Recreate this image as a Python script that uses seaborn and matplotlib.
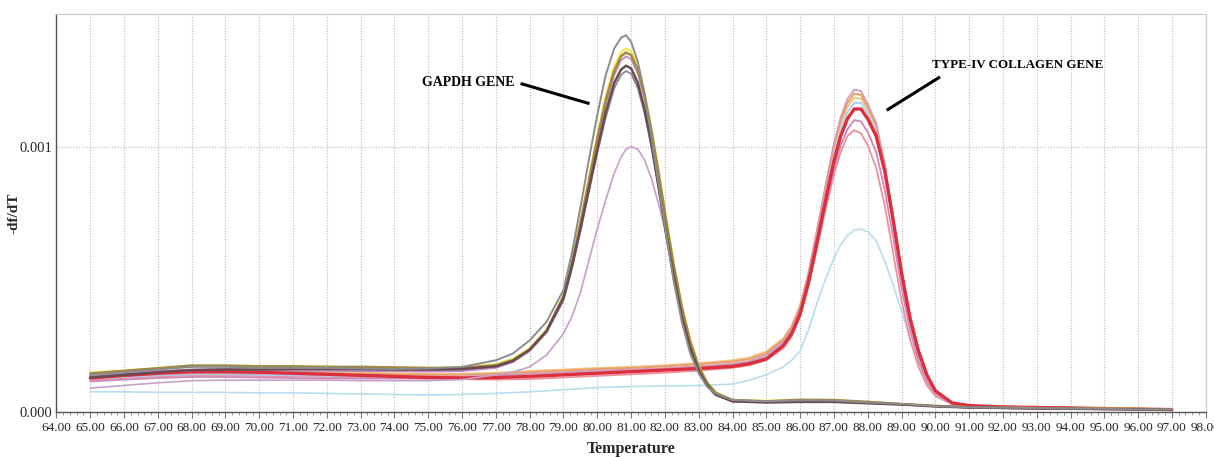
import numpy as np
import pandas as pd
import matplotlib
matplotlib.use("Agg")
import matplotlib.pyplot as plt
from matplotlib.ticker import MultipleLocator, FixedLocator, FormatStrFormatter
import seaborn as sns

# ---------------- data (values in units of 1e-4 -df/dT) ----------------
UNIT = 1e-4

T_gapdh = [65, 66, 67, 68, 69, 70, 71, 72, 73, 74, 75, 76,
           77, 77.5, 78, 78.5, 79, 79.25, 79.5, 79.75, 80, 80.25, 80.5, 80.7, 80.85,
           81.0, 81.2, 81.4, 81.6, 81.8, 82, 82.25, 82.5, 82.75, 83, 83.25, 83.5, 84,
           85, 86, 87, 88, 89, 90, 91, 92, 93, 94, 95, 96, 97]

gapdh_gray = [1.40, 1.50, 1.60, 1.70, 1.70, 1.66, 1.66, 1.66, 1.64, 1.62, 1.64, 1.70,
              1.95, 2.20, 2.70, 3.40, 4.60, 6.00, 7.70, 9.50, 11.2, 12.7, 13.7, 14.1, 14.2,
              13.95, 13.2, 12.0, 10.4, 8.70, 7.00, 5.00, 3.40, 2.20, 1.45, 0.95, 0.70, 0.45,
              0.40, 0.44, 0.43, 0.36, 0.30, 0.22, 0.18, 0.16, 0.15, 0.13, 0.12, 0.10, 0.09]
gapdh_yellow = [1.48, 1.56, 1.64, 1.72, 1.72, 1.70, 1.70, 1.70, 1.68, 1.66, 1.66, 1.68,
                1.80, 2.00, 2.40, 3.10, 4.40, 5.70, 7.20, 8.80, 10.4, 11.9, 13.0, 13.55, 13.7,
                13.6, 13.05, 12.05, 10.7, 9.20, 7.60, 5.70, 4.00, 2.70, 1.75, 1.10, 0.75, 0.45,
                0.42, 0.45, 0.44, 0.38, 0.30, 0.22, 0.18, 0.16, 0.15, 0.14, 0.13, 0.12, 0.10]
gapdh_olive = [1.45, 1.55, 1.65, 1.75, 1.75, 1.72, 1.72, 1.70, 1.70, 1.68, 1.66, 1.66,
               1.76, 1.95, 2.35, 3.05, 4.35, 5.60, 7.10, 8.70, 10.3, 11.75, 12.85, 13.4, 13.55,
               13.45, 12.9, 11.9, 10.6, 9.10, 7.50, 5.60, 3.95, 2.65, 1.70, 1.10, 0.72, 0.45,
               0.40, 0.46, 0.45, 0.38, 0.30, 0.23, 0.18, 0.16, 0.14, 0.13, 0.12, 0.11, 0.09]
gapdh_orchid = [1.38, 1.46, 1.54, 1.60, 1.62, 1.60, 1.58, 1.56, 1.56, 1.54, 1.52, 1.54,
                1.66, 1.88, 2.30, 3.00, 4.30, 5.55, 7.00, 8.60, 10.15, 11.6, 12.7, 13.25, 13.4,
                13.3, 12.75, 11.8, 10.5, 9.00, 7.40, 5.55, 3.90, 2.60, 1.65, 1.05, 0.70, 0.44,
                0.40, 0.43, 0.42, 0.36, 0.29, 0.22, 0.17, 0.15, 0.14, 0.13, 0.12, 0.10, 0.09]
gapdh_dark = [1.30, 1.40, 1.50, 1.58, 1.60, 1.60, 1.62, 1.62, 1.62, 1.60, 1.60, 1.62,
              1.72, 1.92, 2.35, 3.05, 4.30, 5.50, 6.90, 8.40, 9.90, 11.3, 12.4, 12.9, 13.05,
              12.95, 12.4, 11.4, 10.1, 8.60, 7.00, 5.20, 3.60, 2.40, 1.55, 1.00, 0.66, 0.40,
              0.36, 0.38, 0.38, 0.33, 0.28, 0.21, 0.17, 0.15, 0.13, 0.12, 0.11, 0.10, 0.08]
gapdh_slate = [1.35, 1.44, 1.52, 1.58, 1.60, 1.58, 1.56, 1.56, 1.54, 1.54, 1.54, 1.58,
               1.70, 1.90, 2.30, 3.00, 4.20, 5.40, 6.80, 8.30, 9.75, 11.1, 12.2, 12.7, 12.85,
               12.75, 12.2, 11.25, 10.0, 8.50, 6.90, 5.10, 3.55, 2.35, 1.50, 0.98, 0.65, 0.40,
               0.36, 0.39, 0.38, 0.33, 0.28, 0.21, 0.17, 0.15, 0.13, 0.12, 0.11, 0.10, 0.08]
gapdh_mauve = [0.90, 1.00, 1.10, 1.18, 1.20, 1.20, 1.20, 1.20, 1.18, 1.18, 1.18, 1.22,
               1.40, 1.50, 1.70, 2.15, 2.95, 3.60, 4.50, 5.70, 6.90, 8.00, 9.00, 9.60, 9.90,
               10.0, 9.90, 9.50, 8.80, 7.90, 6.90, 5.40, 3.90, 2.60, 1.60, 0.95, 0.62, 0.40,
               0.38, 0.42, 0.42, 0.36, 0.29, 0.22, 0.17, 0.15, 0.14, 0.13, 0.12, 0.10, 0.09]

T_col = [65, 66, 67, 68, 69, 70, 71, 72, 73, 74, 75, 76,
         77, 78, 79, 80, 81, 82, 83, 84,
         84.5, 85, 85.5, 85.75, 86, 86.25, 86.5, 86.75, 87, 87.2, 87.4, 87.6, 87.8,
         88, 88.25, 88.5, 88.75, 89, 89.25, 89.5, 89.75, 90, 90.5,
         91, 92, 93, 94, 95, 96, 97]

col_mauve = [1.30, 1.36, 1.42, 1.46, 1.46, 1.44, 1.42, 1.40, 1.38, 1.36, 1.34, 1.34,
             1.38, 1.44, 1.50, 1.56, 1.60, 1.65, 1.72, 1.82,
             1.92, 2.15, 2.65, 3.10, 3.90, 5.20, 6.80, 8.50, 10.1, 11.1, 11.8, 12.15, 12.1,
             11.6, 10.9, 9.35, 7.30, 5.10, 3.40, 2.15, 1.25, 0.70, 0.32,
             0.25, 0.20, 0.18, 0.16, 0.14, 0.12, 0.10]
col_orange = [1.35, 1.42, 1.48, 1.52, 1.52, 1.50, 1.48, 1.46, 1.44, 1.42, 1.40, 1.40,
              1.44, 1.50, 1.56, 1.62, 1.66, 1.72, 1.80, 1.90,
              2.00, 2.22, 2.72, 3.20, 4.00, 5.25, 6.85, 8.50, 10.05, 11.0, 11.65, 12.0, 11.95,
              11.5, 10.8, 9.30, 7.30, 5.20, 3.45, 2.20, 1.30, 0.72, 0.33,
              0.25, 0.20, 0.18, 0.16, 0.14, 0.12, 0.10]
col_peach = [1.40, 1.46, 1.52, 1.56, 1.56, 1.54, 1.52, 1.50, 1.48, 1.46, 1.44, 1.44,
             1.48, 1.54, 1.60, 1.66, 1.70, 1.76, 1.84, 1.95,
             2.05, 2.28, 2.78, 3.25, 4.00, 5.20, 6.80, 8.40, 9.95, 10.85, 11.5, 11.85, 11.8,
             11.4, 10.75, 9.30, 7.40, 5.30, 3.55, 2.25, 1.35, 0.75, 0.34,
             0.25, 0.20, 0.18, 0.16, 0.14, 0.12, 0.10]
col_skyblue = [1.25, 1.32, 1.38, 1.42, 1.42, 1.40, 1.38, 1.36, 1.34, 1.32, 1.30, 1.30,
               1.34, 1.40, 1.46, 1.52, 1.56, 1.62, 1.70, 1.80,
               1.90, 2.10, 2.60, 3.05, 3.80, 5.00, 6.55, 8.15, 9.70, 10.65, 11.3, 11.65, 11.65,
               11.25, 10.55, 9.10, 7.15, 5.10, 3.40, 2.15, 1.28, 0.72, 0.33,
               0.24, 0.19, 0.17, 0.15, 0.13, 0.11, 0.09]
col_red = [1.28, 1.38, 1.46, 1.52, 1.52, 1.50, 1.46, 1.42, 1.38, 1.34, 1.30, 1.28,
           1.30, 1.34, 1.40, 1.46, 1.52, 1.58, 1.64, 1.72,
           1.82, 2.00, 2.50, 2.95, 3.70, 4.90, 6.40, 7.95, 9.45, 10.4, 11.05, 11.42, 11.42,
           11.05, 10.4, 9.10, 7.25, 5.25, 3.55, 2.30, 1.40, 0.80, 0.34,
           0.24, 0.19, 0.17, 0.15, 0.13, 0.11, 0.09]
col_orchid = [1.15, 1.22, 1.28, 1.32, 1.32, 1.30, 1.28, 1.26, 1.26, 1.26, 1.26, 1.28,
              1.32, 1.38, 1.44, 1.50, 1.55, 1.60, 1.68, 1.78,
              1.88, 2.05, 2.50, 2.95, 3.70, 4.85, 6.30, 7.75, 9.15, 10.05, 10.65, 11.0, 10.95,
              10.55, 9.80, 8.40, 6.60, 4.70, 3.10, 1.95, 1.15, 0.68, 0.32,
              0.23, 0.19, 0.17, 0.15, 0.13, 0.11, 0.09]
col_pink = [1.20, 1.28, 1.34, 1.38, 1.38, 1.36, 1.34, 1.32, 1.30, 1.28, 1.26, 1.24,
            1.22, 1.24, 1.30, 1.36, 1.42, 1.48, 1.56, 1.66,
            1.76, 1.95, 2.40, 2.85, 3.60, 4.75, 6.15, 7.60, 8.95, 9.80, 10.4, 10.62, 10.5,
            10.05, 9.20, 7.80, 6.00, 4.20, 2.75, 1.70, 1.00, 0.60, 0.30,
            0.22, 0.18, 0.16, 0.14, 0.12, 0.10, 0.09]
col_paleblue = [0.76, 0.76, 0.74, 0.74, 0.74, 0.72, 0.72, 0.70, 0.68, 0.66, 0.64, 0.66,
                0.70, 0.76, 0.84, 0.92, 0.96, 0.98, 1.00, 1.05,
                1.20, 1.40, 1.70, 1.95, 2.30, 3.10, 4.10, 5.00, 5.80, 6.30, 6.65, 6.85, 6.89,
                6.80, 6.45, 5.70, 4.80, 3.80, 2.80, 1.85, 1.10, 0.60, 0.28,
                0.22, 0.18, 0.16, 0.14, 0.12, 0.10, 0.09]

x_ticks = [64, 65, 66, 67, 68, 69, 70, 71, 72, 73, 74, 75, 76, 77, 78, 79, 80, 81,
           82, 83, 84, 85, 86, 87, 88, 89, 90, 91, 92, 93, 94, 95, 96, 97, 98]
y_ticks = [0.000, 0.001]

# ---------------- styling ----------------
curves = [
    # (temps, values, colour, linewidth)
    (T_col, col_paleblue, "#b9dcef", 1.2),
    (T_col, col_pink, "#ef8f9c", 1.3),
    (T_col, col_orchid, "#cf86bb", 1.3),
    (T_col, col_skyblue, "#a6d3ec", 1.3),
    (T_col, col_peach, "#f3c58e", 1.4),
    (T_col, col_orange, "#e9a066", 1.4),
    (T_col, col_mauve, "#d49ab8", 1.3),
    (T_col, col_red, "#db2f3d", 2.4),
    (T_gapdh, gapdh_mauve, "#c7a0c9", 1.2),
    (T_gapdh, gapdh_slate, "#8a8898", 1.3),
    (T_gapdh, gapdh_orchid, "#c48ac8", 1.3),
    (T_gapdh, gapdh_yellow, "#f3e150", 1.6),
    (T_gapdh, gapdh_olive, "#a08a40", 1.8),
    (T_gapdh, gapdh_dark, "#6b4a50", 1.8),
    (T_gapdh, gapdh_gray, "#8c8c8c", 1.4),
]

sns.set_style("white")
plt.rcParams["font.family"] = ["Liberation Serif", "DejaVu Serif"]

fig = plt.figure(figsize=(12.14, 4.57), dpi=100)
ax = fig.add_axes([0.0465, 0.0985, 0.9467, 0.8709])

for temps, vals, colour, lw in curves:
    df = pd.DataFrame({"Temperature": temps, "dfdT": np.asarray(vals) * UNIT})
    sns.lineplot(data=df, x="Temperature", y="dfdT", color=colour, linewidth=lw,
                 ax=ax, sort=False, legend=False)

ax.set_xlim(64, 98)
ax.set_ylim(0, 0.0015)
ax.xaxis.set_major_locator(FixedLocator(x_ticks))
ax.xaxis.set_major_formatter(FormatStrFormatter("%.2f"))
ax.xaxis.set_minor_locator(MultipleLocator(0.2))
ax.yaxis.set_major_locator(FixedLocator(y_ticks))
ax.yaxis.set_major_formatter(FormatStrFormatter("%.3f"))

ax.grid(True, which="major", color="#b5b5b5", linestyle=(0, (1, 1.5)), linewidth=0.8)
ax.set_axisbelow(True)

for side in ["top", "right"]:
    ax.spines[side].set_color("#c8c8c8")
    ax.spines[side].set_linewidth(0.8)
for side in ["left", "bottom"]:
    ax.spines[side].set_color("#555555")
    ax.spines[side].set_linewidth(1.0)

ax.tick_params(axis="x", which="major", length=4, width=0.8, color="#777777",
               labelsize=9.5, pad=3, direction="out", bottom=True)
ax.tick_params(axis="x", which="minor", length=2.5, width=0.6, color="#888888",
               direction="out", bottom=True)
ax.tick_params(axis="y", which="major", length=0, labelsize=10.5, pad=3)

ax.set_xlabel("Temperature", fontsize=11.5, fontweight="bold")
ax.xaxis.set_label_coords(0.5, -0.072)
ax.set_ylabel("-df/dT", fontsize=11, fontweight="bold")
ax.yaxis.set_label_coords(-0.031, 0.5)

# annotations
ax.text(74.80, 0.0012415, "GAPDH GENE", fontsize=10, fontweight="bold",
        ha="left", va="center", color="black")
ax.plot([77.73, 79.77], [0.001238, 0.001162], color="black", linewidth=2.2,
        solid_capstyle="butt")
ax.text(89.91, 0.001306, "TYPE-IV COLLAGEN GENE", fontsize=9.4, fontweight="bold",
        ha="left", va="center", color="black")
ax.plot([90.14, 88.56], [0.001263, 0.001137], color="black", linewidth=2.2,
        solid_capstyle="butt")

fig.savefig("out.png", dpi=100)
